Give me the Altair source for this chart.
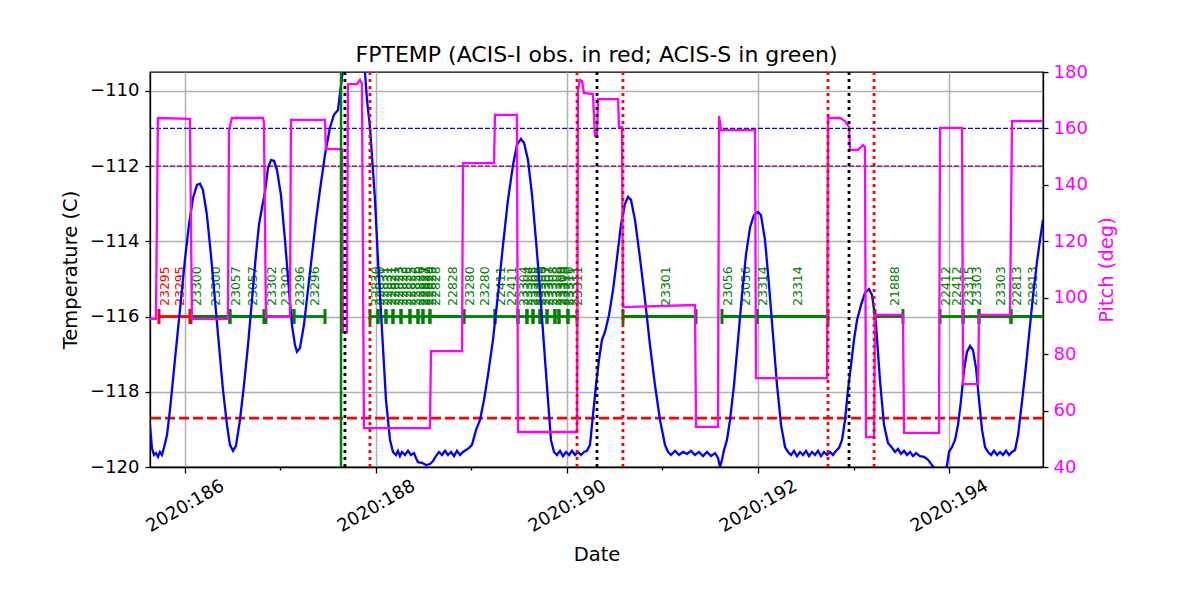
import altair as alt
import pandas as pd

# ---------------- data ----------------
# FPTEMP model (day-of-year 2020, deg C)
temp_series = [
    (185.634, -118.88), (185.654, -119.49), (185.675, -119.68), (185.696, -119.63), (185.717, -119.73),
    (185.738, -119.60), (185.759, -119.68), (185.780, -119.49), (185.812, -119.15), (185.843, -118.48),
    (185.874, -117.69), (185.916, -116.62), (185.958, -115.56), (186.000, -114.49), (186.042, -113.56),
    (186.084, -112.85), (186.126, -112.50), (186.157, -112.47), (186.188, -112.63), (186.230, -113.30),
    (186.272, -114.36), (186.314, -115.56), (186.356, -116.76), (186.398, -117.95), (186.440, -118.88),
    (186.471, -119.41), (186.503, -119.57), (186.534, -119.44), (186.576, -118.75), (186.618, -117.82),
    (186.660, -116.76), (186.702, -115.56), (186.743, -114.36), (186.775, -113.56), (186.806, -113.11),
    (186.838, -112.69), (186.869, -112.05), (186.901, -111.84), (186.932, -111.86), (186.963, -112.10),
    (187.005, -112.77), (187.047, -113.96), (187.089, -115.29), (187.120, -116.22), (187.152, -116.76),
    (187.173, -116.94), (187.204, -116.84), (187.246, -116.22), (187.288, -115.29), (187.330, -114.36),
    (187.372, -113.43), (187.414, -112.63), (187.466, -111.70), (187.518, -110.98), (187.560, -110.64),
    (187.602, -110.51), (187.686, -108.78), (187.791, -108.78), (187.885, -109.52), (187.906, -110.24),
    (187.937, -110.96), (187.990, -112.90), (188.021, -114.49), (188.063, -116.36), (188.105, -118.22),
    (188.147, -119.28), (188.178, -119.60), (188.209, -119.68), (188.230, -119.57), (188.251, -119.71),
    (188.272, -119.60), (188.304, -119.68), (188.335, -119.57), (188.366, -119.68), (188.398, -119.63),
    (188.419, -119.76), (188.440, -119.87), (188.482, -119.89), (188.524, -119.95), (188.565, -119.92),
    (188.597, -119.84), (188.628, -119.71), (188.660, -119.60), (188.691, -119.68), (188.723, -119.57),
    (188.754, -119.68), (188.785, -119.60), (188.817, -119.71), (188.848, -119.57), (188.880, -119.68),
    (188.911, -119.60), (188.942, -119.55), (188.974, -119.49), (189.005, -119.41), (189.047, -119.02),
    (189.089, -118.75), (189.131, -118.22), (189.173, -117.55), (189.225, -116.62), (189.277, -115.43),
    (189.330, -114.10), (189.382, -112.90), (189.435, -111.97), (189.476, -111.44), (189.518, -111.28),
    (189.550, -111.38), (189.592, -111.84), (189.634, -112.77), (189.675, -113.96), (189.717, -115.29),
    (189.759, -116.76), (189.801, -118.22), (189.832, -119.28), (189.864, -119.60), (189.895, -119.68),
    (189.927, -119.57), (189.958, -119.71), (189.990, -119.60), (190.021, -119.68), (190.052, -119.57),
    (190.084, -119.68), (190.115, -119.60), (190.147, -119.68), (190.178, -119.60), (190.209, -119.57),
    (190.241, -119.41), (190.272, -118.62), (190.304, -117.82), (190.335, -117.15), (190.366, -116.62),
    (190.398, -116.41), (190.440, -115.96), (190.482, -115.29), (190.524, -114.44), (190.565, -113.56),
    (190.607, -113.01), (190.639, -112.82), (190.670, -112.90), (190.712, -113.43), (190.764, -114.44),
    (190.817, -115.56), (190.869, -116.76), (190.921, -117.82), (190.974, -118.75), (191.026, -119.41),
    (191.058, -119.60), (191.089, -119.68), (191.131, -119.57), (191.173, -119.68), (191.215, -119.60),
    (191.257, -119.65), (191.298, -119.57), (191.340, -119.68), (191.382, -119.60), (191.424, -119.71),
    (191.466, -119.60), (191.508, -119.71), (191.550, -119.63), (191.581, -119.76), (191.602, -120.00),
    (191.623, -119.81), (191.644, -119.55), (191.675, -119.28), (191.707, -118.75), (191.749, -117.82),
    (191.791, -116.62), (191.832, -115.43), (191.874, -114.36), (191.916, -113.64), (191.958, -113.30),
    (192.000, -113.22), (192.031, -113.30), (192.073, -113.96), (192.115, -115.16), (192.157, -116.49),
    (192.199, -117.82), (192.241, -118.88), (192.283, -119.47), (192.314, -119.60), (192.346, -119.68),
    (192.377, -119.57), (192.408, -119.71), (192.440, -119.60), (192.471, -119.68), (192.503, -119.57),
    (192.534, -119.71), (192.565, -119.60), (192.597, -119.68), (192.628, -119.57), (192.660, -119.71),
    (192.691, -119.60), (192.723, -119.68), (192.754, -119.60), (192.785, -119.68), (192.817, -119.57),
    (192.848, -119.49), (192.880, -119.28), (192.911, -118.75), (192.942, -117.95), (192.974, -117.29),
    (193.005, -116.62), (193.037, -116.09), (193.079, -115.69), (193.120, -115.37), (193.162, -115.27),
    (193.194, -115.43), (193.236, -116.22), (193.277, -117.69), (193.319, -118.88), (193.361, -119.36),
    (193.403, -119.49), (193.435, -119.60), (193.466, -119.52), (193.497, -119.65), (193.529, -119.57),
    (193.560, -119.68), (193.592, -119.60), (193.623, -119.71), (193.654, -119.63), (193.696, -119.71),
    (193.738, -119.73), (193.780, -119.81), (193.822, -119.95), (193.864, -120.08), (193.906, -120.19),
    (193.948, -120.13), (193.979, -119.95), (194.000, -119.60), (194.031, -119.47), (194.063, -119.28),
    (194.094, -118.88), (194.126, -118.22), (194.157, -117.42), (194.188, -116.94), (194.220, -116.78),
    (194.251, -116.89), (194.283, -117.37), (194.314, -118.22), (194.346, -119.02), (194.377, -119.47),
    (194.408, -119.60), (194.440, -119.68), (194.471, -119.57), (194.503, -119.68), (194.534, -119.60),
    (194.565, -119.68), (194.597, -119.57), (194.628, -119.68), (194.660, -119.60), (194.691, -119.55),
    (194.723, -119.15), (194.754, -118.48), (194.796, -117.55), (194.838, -116.49), (194.880, -115.43),
    (194.921, -114.55), (194.953, -113.96), (194.984, -113.43),
]

# Pitch (deg)
pitch_series = [
    (185.634, 92.5), (185.696, 92.5), (185.717, 163.7), (186.052, 163.4), (186.073, 92.5),
    (186.450, 92.5), (186.461, 159.4), (186.492, 163.7), (186.817, 163.7), (186.827, 162.3),
    (186.848, 93.2), (187.099, 93.2), (187.110, 163.0), (187.466, 163.0), (187.476, 152.7),
    (187.644, 152.7), (187.654, 87.8), (187.696, 87.8), (187.707, 175.7), (187.801, 175.7),
    (187.832, 177.2), (187.853, 175.7), (187.874, 53.8), (188.565, 53.8), (188.576, 81.1),
    (188.901, 81.1), (188.911, 147.7), (189.236, 147.7), (189.246, 164.8), (189.476, 164.8),
    (189.487, 52.4), (190.105, 52.4), (190.115, 174.0), (190.136, 177.2), (190.157, 176.8),
    (190.178, 172.6), (190.272, 172.2), (190.293, 157.3), (190.314, 157.3), (190.325, 170.4),
    (190.534, 170.4), (190.545, 160.5), (190.576, 160.5), (190.586, 96.7), (191.340, 97.4),
    (191.351, 54.2), (191.581, 54.2), (191.592, 164.4), (191.613, 159.4), (191.969, 159.4),
    (191.979, 71.5), (192.723, 71.5), (192.733, 163.7), (192.859, 163.7), (192.911, 162.6),
    (192.953, 160.5), (192.963, 152.4), (193.047, 152.4), (193.099, 154.1), (193.120, 153.4),
    (193.131, 50.6), (193.215, 50.6), (193.225, 93.9), (193.518, 93.9), (193.529, 52.1),
    (193.895, 52.1), (193.906, 160.2), (194.136, 160.2), (194.147, 69.4), (194.304, 69.4),
    (194.314, 93.9), (194.639, 93.9), (194.649, 128.3), (194.660, 162.6), (194.984, 162.6),
]

# Observation intervals (ACIS-I = "I", ACIS-S = "S")
obs_start = [185.728, 186.063, 186.471, 186.848, 187.141, 187.937, 188.021, 188.105, 188.178,
             188.262, 188.356, 188.440, 188.492, 188.565, 188.921, 189.246, 189.487, 189.581,
             189.644, 189.717, 189.791, 189.874, 189.916, 190.010, 190.586, 191.623, 191.990,
             193.225, 193.906, 194.147, 194.314, 194.649]
obs_stop = [186.052, 186.471, 186.827, 187.141, 187.466, 188.021, 188.105, 188.178, 188.262,
            188.356, 188.440, 188.492, 188.565, 188.921, 189.246, 189.487, 189.581, 189.644,
            189.717, 189.791, 189.874, 189.916, 190.010, 190.105, 191.351, 191.990, 192.733,
            193.518, 194.147, 194.314, 194.649, 195.100]
obs_inst = ["I"] + ["S"] * 31

# Obsid labels
label_day = [185.728, 185.885, 186.063, 186.262, 186.471, 186.649, 186.848, 186.995, 187.141, 187.298,
             187.937, 187.979, 188.021, 188.063, 188.105, 188.136, 188.178, 188.220, 188.262, 188.304,
             188.356, 188.398, 188.440, 188.461, 188.492, 188.524, 188.565, 188.743, 188.921, 189.079,
             189.246, 189.361, 189.487, 189.529, 189.581, 189.613, 189.644, 189.675, 189.717, 189.749,
             189.791, 189.832, 189.874, 189.895, 189.916, 189.958, 190.010, 190.052, 190.974, 191.623,
             191.812, 191.990, 192.356, 193.372, 193.906, 194.021, 194.147, 194.230, 194.482, 194.649,
             194.817]
label_text = ["23295", "23295", "23300", "23300", "23057", "23057", "23302", "23302", "23296", "23296",
              "22830", "22830", "22831", "22831", "22821", "22821", "22823", "22823", "22825", "22825",
              "22826", "22826", "22827", "22827", "22829", "22829", "22828", "22828", "23280", "23280",
              "22411", "22411", "23304", "23304", "23305", "23305", "23306", "23306", "23307", "23307",
              "23308", "23308", "23309", "23309", "23310", "23310", "23311", "23311", "23301", "23056",
              "23056", "23314", "23314", "21888", "22412", "22412", "23315", "23303", "23303", "22813",
              "22813"]
label_inst = ["I", "I"] + ["S"] * 59

# Vertical markers
green_lines = [187.634]
black_lines = [187.675, 190.314, 192.953]
red_lines = [187.937, 190.105, 190.586, 192.733, 193.215]

# Horizontal limits
limit_blue = [-111.0]
limit_purple = [-112.0]
limit_red = [-118.7]

x_days = [186, 187, 188, 189, 190, 191, 192, 193, 194]
t_ticks = [-120, -118, -116, -114, -112, -110]
p_ticks = [40, 60, 80, 100, 120, 140, 160, 180]
obs_level = -116.0

# ---------------- frames ----------------
temp_df = pd.DataFrame({"day": [p[0] for p in temp_series], "t": [p[1] for p in temp_series]})
temp_df["i"] = range(len(temp_df))
pitch_df = pd.DataFrame({"day": [p[0] for p in pitch_series], "p": [p[1] for p in pitch_series]})
pitch_df["i"] = range(len(pitch_df))
obs_df = pd.DataFrame({"day": obs_start, "day2": obs_stop, "inst": obs_inst, "t": obs_level})
tick_df = pd.DataFrame({"day": obs_start + obs_stop, "inst": obs_inst + obs_inst,
                        "t": obs_level - 0.2, "t2": obs_level + 0.2})
lab_df = pd.DataFrame({"day": label_day, "txt": label_text, "inst": label_inst, "t": obs_level + 0.28})

FONT = "DejaVu Sans"
inst_color = alt.Color("inst:N", scale=alt.Scale(domain=["I", "S"], range=["#ff0000", "#008000"]), legend=None)

xscale = alt.Scale(domain=[185.634, 194.984], nice=False, zero=False)
xaxis = alt.Axis(
    title="Date", values=x_days,
    labelExpr="datum.value % 2 === 0 ? '2020:' + datum.value : ''",
    labelAngle=330, labelAlign="center", labelBaseline="middle", labelPadding=33,
    tickSize={"condition": {"test": "datum.value % 2 === 0", "value": 6}, "value": 3},
    grid=True, gridColor="#b0b0b0", gridWidth=1.5,
    gridOpacity={"condition": {"test": "datum.value % 2 === 0", "value": 1}, "value": 0},
    titlePadding=10,
)
X = alt.X("day:Q", scale=xscale, axis=xaxis)

tscale = alt.Scale(domain=[-120, -109.5], nice=False, zero=False)
taxis = alt.Axis(title="Temperature (C)", values=t_ticks, grid=True, gridColor="#b0b0b0",
                 gridWidth=1.5, tickSize=5, labelPadding=6, titlePadding=9)
Y = alt.Y("t:Q", scale=tscale, axis=taxis)

pscale = alt.Scale(domain=[40, 180], nice=False, zero=False)
paxis = alt.Axis(title="Pitch (deg)", orient="right", values=p_ticks, grid=False,
                 labelColor="#ff00ff", titleColor="#ff00ff", titleAngle=270, titleBaseline="top",
                 tickSize=5, labelPadding=5, titlePadding=10)

# ---------------- temperature group ----------------
h_blue = alt.Chart(pd.DataFrame({"t": limit_blue})).mark_rule(
    color="blue", strokeWidth=1.2, strokeDash=[5, 2]).encode(y=Y)
h_purple = alt.Chart(pd.DataFrame({"t": limit_purple})).mark_rule(
    color="purple", strokeWidth=1.2, strokeDash=[5, 2]).encode(y=Y)
h_red = alt.Chart(pd.DataFrame({"t": limit_red})).mark_rule(
    color="red", strokeWidth=2.6, strokeDash=[10, 4]).encode(y=Y)

obs_lines = alt.Chart(obs_df).mark_rule(strokeWidth=2.8, clip=True).encode(
    x=X, x2="day2:Q", y=Y, color=inst_color)
obs_ticks = alt.Chart(tick_df).mark_rule(strokeWidth=3, clip=True).encode(
    x=X, y=Y, y2="t2:Q", color=inst_color)
obs_labels = alt.Chart(lab_df).mark_text(
    angle=270, align="left", baseline="top", font=FONT, fontSize=12.5).encode(
    x=X, y=Y, text="txt:N", color=inst_color)

temp_line = alt.Chart(temp_df).mark_line(color="blue", strokeWidth=2.3, clip=True).encode(
    x=X, y=Y, order="i:Q")

left = alt.layer(h_blue, h_purple, h_red, obs_lines, obs_ticks, obs_labels, temp_line)

# ---------------- pitch group ----------------
pitch_line = alt.Chart(pitch_df).mark_line(color="#ff00ff", strokeWidth=2.3, clip=True).encode(
    x=X, y=alt.Y("p:Q", scale=pscale, axis=paxis), order="i:Q")
v_green = alt.Chart(pd.DataFrame({"day": green_lines})).mark_rule(
    color="#008000", strokeWidth=2.5).encode(x=X)
v_black = alt.Chart(pd.DataFrame({"day": black_lines})).mark_rule(
    color="black", strokeWidth=2.8, strokeDash=[3, 4]).encode(x=X)
v_red = alt.Chart(pd.DataFrame({"day": red_lines})).mark_rule(
    color="red", strokeWidth=2.8, strokeDash=[3, 4]).encode(x=X)

right = alt.layer(pitch_line, v_green, v_black, v_red)

chart = alt.layer(left, right).resolve_scale(y="independent").properties(
    width=893, height=395,
    title=alt.TitleParams("FPTEMP (ACIS-I obs. in red; ACIS-S in green)", font=FONT, fontSize=22,
                          fontWeight="normal", anchor="middle", baseline="alphabetic", offset=-21,
                          color="black"),
    padding={"left": 142, "top": 64, "right": 140, "bottom": 110},
    autosize=alt.AutoSizeParams(type="none"),
).configure_axis(
    labelFont=FONT, titleFont=FONT, labelFontSize=18, titleFontSize=19.5, titleFontWeight="normal",
    domainColor="black", tickColor="black", domainWidth=1.3, tickWidth=1.3,
).configure_view(stroke="black", strokeWidth=1.3)

chart.save("out.html", embed_options={"renderer": "svg", "actions": False})
